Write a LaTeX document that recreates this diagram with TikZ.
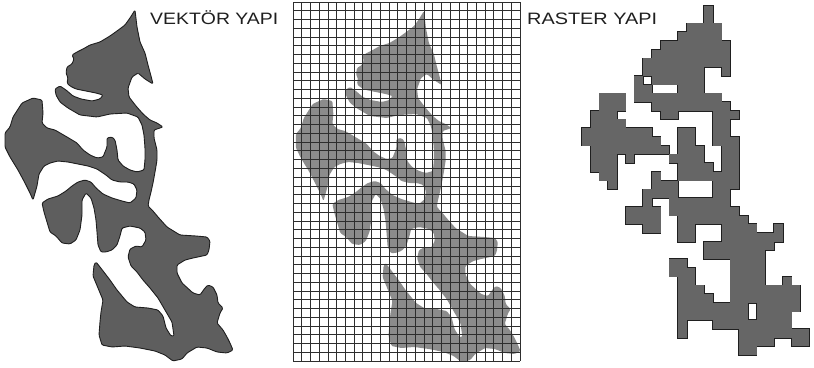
\documentclass[tikz,border=0pt]{standalone}
\usepackage{fontspec}
\usepackage{graphicx}
\setmainfont{Liberation Sans}
\newcommand\blobpath[1]{\path[#1] (135,10) -- (137,27) -- (140,42) -- (145,53) -- (148,65) -- (151,76) -- (153,84) -- (145,79) -- (138,73) -- (132,77) -- (128,88) -- (129,97) -- (136,106) -- (143,114) -- (150,120) -- (157,123) -- (163,127) -- (154,130) -- (154,138) -- (157,150) -- (157,160) -- (155,172) -- (153,183) -- (151,192) -- (149,200) -- (148,206) -- (153,211) -- (158,217) -- (167,227) -- (180,235) -- (196,236) -- (207,237) -- (210,241) -- (209,250) -- (207,255) -- (193,258) -- (185,260) -- (177,265) -- (177,273) -- (182,283) -- (193,293) -- (200,295) -- (205,288) -- (208,285) -- (213,287) -- (217,295) -- (218,303) -- (223,308) -- (220,313) -- (217,323) -- (223,330) -- (227,337) -- (230,343) -- (233,350) -- (227,353) -- (217,352) -- (207,348) -- (197,347) -- (187,353) -- (182,359) -- (173,361) -- (165,355) -- (155,351) -- (140,348) -- (125,346) -- (112,347) -- (102,345) -- (99,335) -- (100,322) -- (101,312) -- (103,300) -- (98,288) -- (93,276) -- (94,265) -- (96,262) -- (100,267) -- (110,280) -- (117,290) -- (127,302) -- (135,307) -- (148,308) -- (158,310) -- (163,316) -- (166,328) -- (171,336) -- (174,336) -- (172,322) -- (165,310) -- (158,298) -- (150,288) -- (143,280) -- (137,272) -- (131,266) -- (128,257) -- (130,249) -- (136,246) -- (142,247) -- (146,240) -- (145,232) -- (140,228) -- (130,226) -- (122,228) -- (120,236) -- (117,245) -- (112,250) -- (106,252) -- (101,252) -- (98,245) -- (97,232) -- (96,220) -- (94,208) -- (91,198) -- (86,193) -- (82,200) -- (82,215) -- (80,230) -- (76,240) -- (70,244) -- (62,243) -- (56,236) -- (50,232) -- (47,222) -- (44,212) -- (42,203) -- (48,199) -- (58,196) -- (66,191) -- (72,186) -- (78,182) -- (85,180) -- (91,182) -- (96,188) -- (103,194) -- (112,198) -- (122,201) -- (130,203) -- (136,198) -- (137,190) -- (134,184) -- (128,182) -- (120,182) -- (112,180) -- (106,175) -- (97,169) -- (88,166) -- (78,164) -- (68,162) -- (58,161) -- (50,163) -- (44,166) -- (39,174) -- (37,186) -- (33,200) -- (30,193) -- (25,183) -- (18,170) -- (10,157) -- (5,147) -- (5,133) -- (10,127) -- (13,117) -- (22,103) -- (33,98) -- (42,100) -- (43,113) -- (42,123) -- (47,128) -- (55,130) -- (67,137) -- (77,143) -- (83,150) -- (90,155) -- (97,158) -- (103,157) -- (107,147) -- (107,138) -- (112,137) -- (115,140) -- (117,150) -- (118,160) -- (123,166) -- (130,170) -- (137,172) -- (144,170) -- (145,160) -- (145,148) -- (144,135) -- (142,125) -- (138,117) -- (127,113) -- (110,114) -- (97,117) -- (80,115) -- (68,108) -- (60,102) -- (56,95) -- (55,89) -- (60,86) -- (66,90) -- (73,96) -- (81,99) -- (92,101) -- (100,99) -- (103,95) -- (96,93) -- (86,91) -- (76,89) -- (70,86) -- (67,83) -- (68,78) -- (66,73) -- (67,67) -- (72,64) -- (74,59) -- (72,55) -- (77,52) -- (83,49) -- (90,45) -- (100,42) -- (110,36) -- (117,31) -- (125,25) -- (130,18) -- cycle;}
\def\rasterdata{0/{14/14},1/{14/14},2/{12/15},3/{11/15},4/{9/16},5/{8/16},6/{7/16},7/{7/13,16/16},8/{6/6,8/13},9/{6/7,11/13},10/{2/4,6/15},11/{2/4,8/16},12/{1/3,9/10,15/17},13/{1/4,15/16},14/{0/7,11/12,15/16},15/{0/8,11/12,15/17},16/{1/9,11/13,16/17},17/{1/3,5/5,10/13,16/17},18/{1/3,11/14,16/17},19/{2/3,8/8,11/17},20/{3/3,8/10,15/17},21/{7/10,15/16},22/{7/7,10/16},23/{5/8,10/17},24/{5/8,11/18},25/{7/8,11/12,16/19,22/22},26/{11/12,16/22},27/{14/21},28/{14/20},29/{10/11,17/20},30/{10/12,17/20},31/{11/12,17/20,23/23},32/{11/13,17/24},33/{11/14,17/24},34/{11/18,20/24},35/{11/18,20/23},36/{11/11,15/23},37/{11/11,18/25},38/{18/21,24/25},39/{18/19}}
\newcommand\capt[2]{\resizebox{#1}{\height}{#2}}
\begin{document}
\begin{tikzpicture}[x=1pt,y=-1pt,
  vecfill/.style={fill=black!63, draw=black!88, line width=0.9pt, rounded corners=1.2pt, line join=round},
  midfill/.style={fill=black!45, rounded corners=1.2pt},
  gridln/.style={draw=black!82, line width=0.75pt},
  rastedge/.style={fill=black!88},
  rastcell/.style={fill=black!60},
  captxt/.style={font=\fontsize{16.5}{19}\selectfont, anchor=base west, inner sep=0pt, text=black!88}]
\useasboundingbox (0,0) rectangle (814,367);
\fill[white] (0,0) rectangle (814,367);
% left: vector
\blobpath{vecfill}
% middle: vector on grid
\begin{scope}
  \clip (293,2) rectangle (520,361);
  \begin{scope}[shift={(291,1)}, xscale=0.985]
    \blobpath{midfill}
  \end{scope}
\end{scope}
\foreach \i in {0,...,26} \draw[gridln] ({293+\i*8.73},2) -- ({293+\i*8.73},361);
\foreach \j in {0,...,41} \draw[gridln] (293,{2+\j*8.756}) -- (520,{2+\j*8.756});
% right: raster
\foreach \r/\runs in \rasterdata {
  \foreach \a/\b in \runs {
    \fill[rastedge] ({582+\a*8.73-0.8},{6+\r*8.73-0.8}) rectangle ({582+(\b+1)*8.73+0.8},{6+(\r+1)*8.73+0.8});
  }
}
\foreach \r/\runs in \rasterdata {
  \foreach \a/\b in \runs {
    \fill[rastcell] ({582+\a*8.73},{6+\r*8.73}) rectangle ({582+(\b+1)*8.73},{6+(\r+1)*8.73});
  }
}
\node[captxt] (vek) at (150,24) {\capt{128pt}{VEKTÖR YAPI}};
\node[captxt] (ras) at (527,24) {\capt{130pt}{RASTER YAPI}};
\end{tikzpicture}
\end{document}
